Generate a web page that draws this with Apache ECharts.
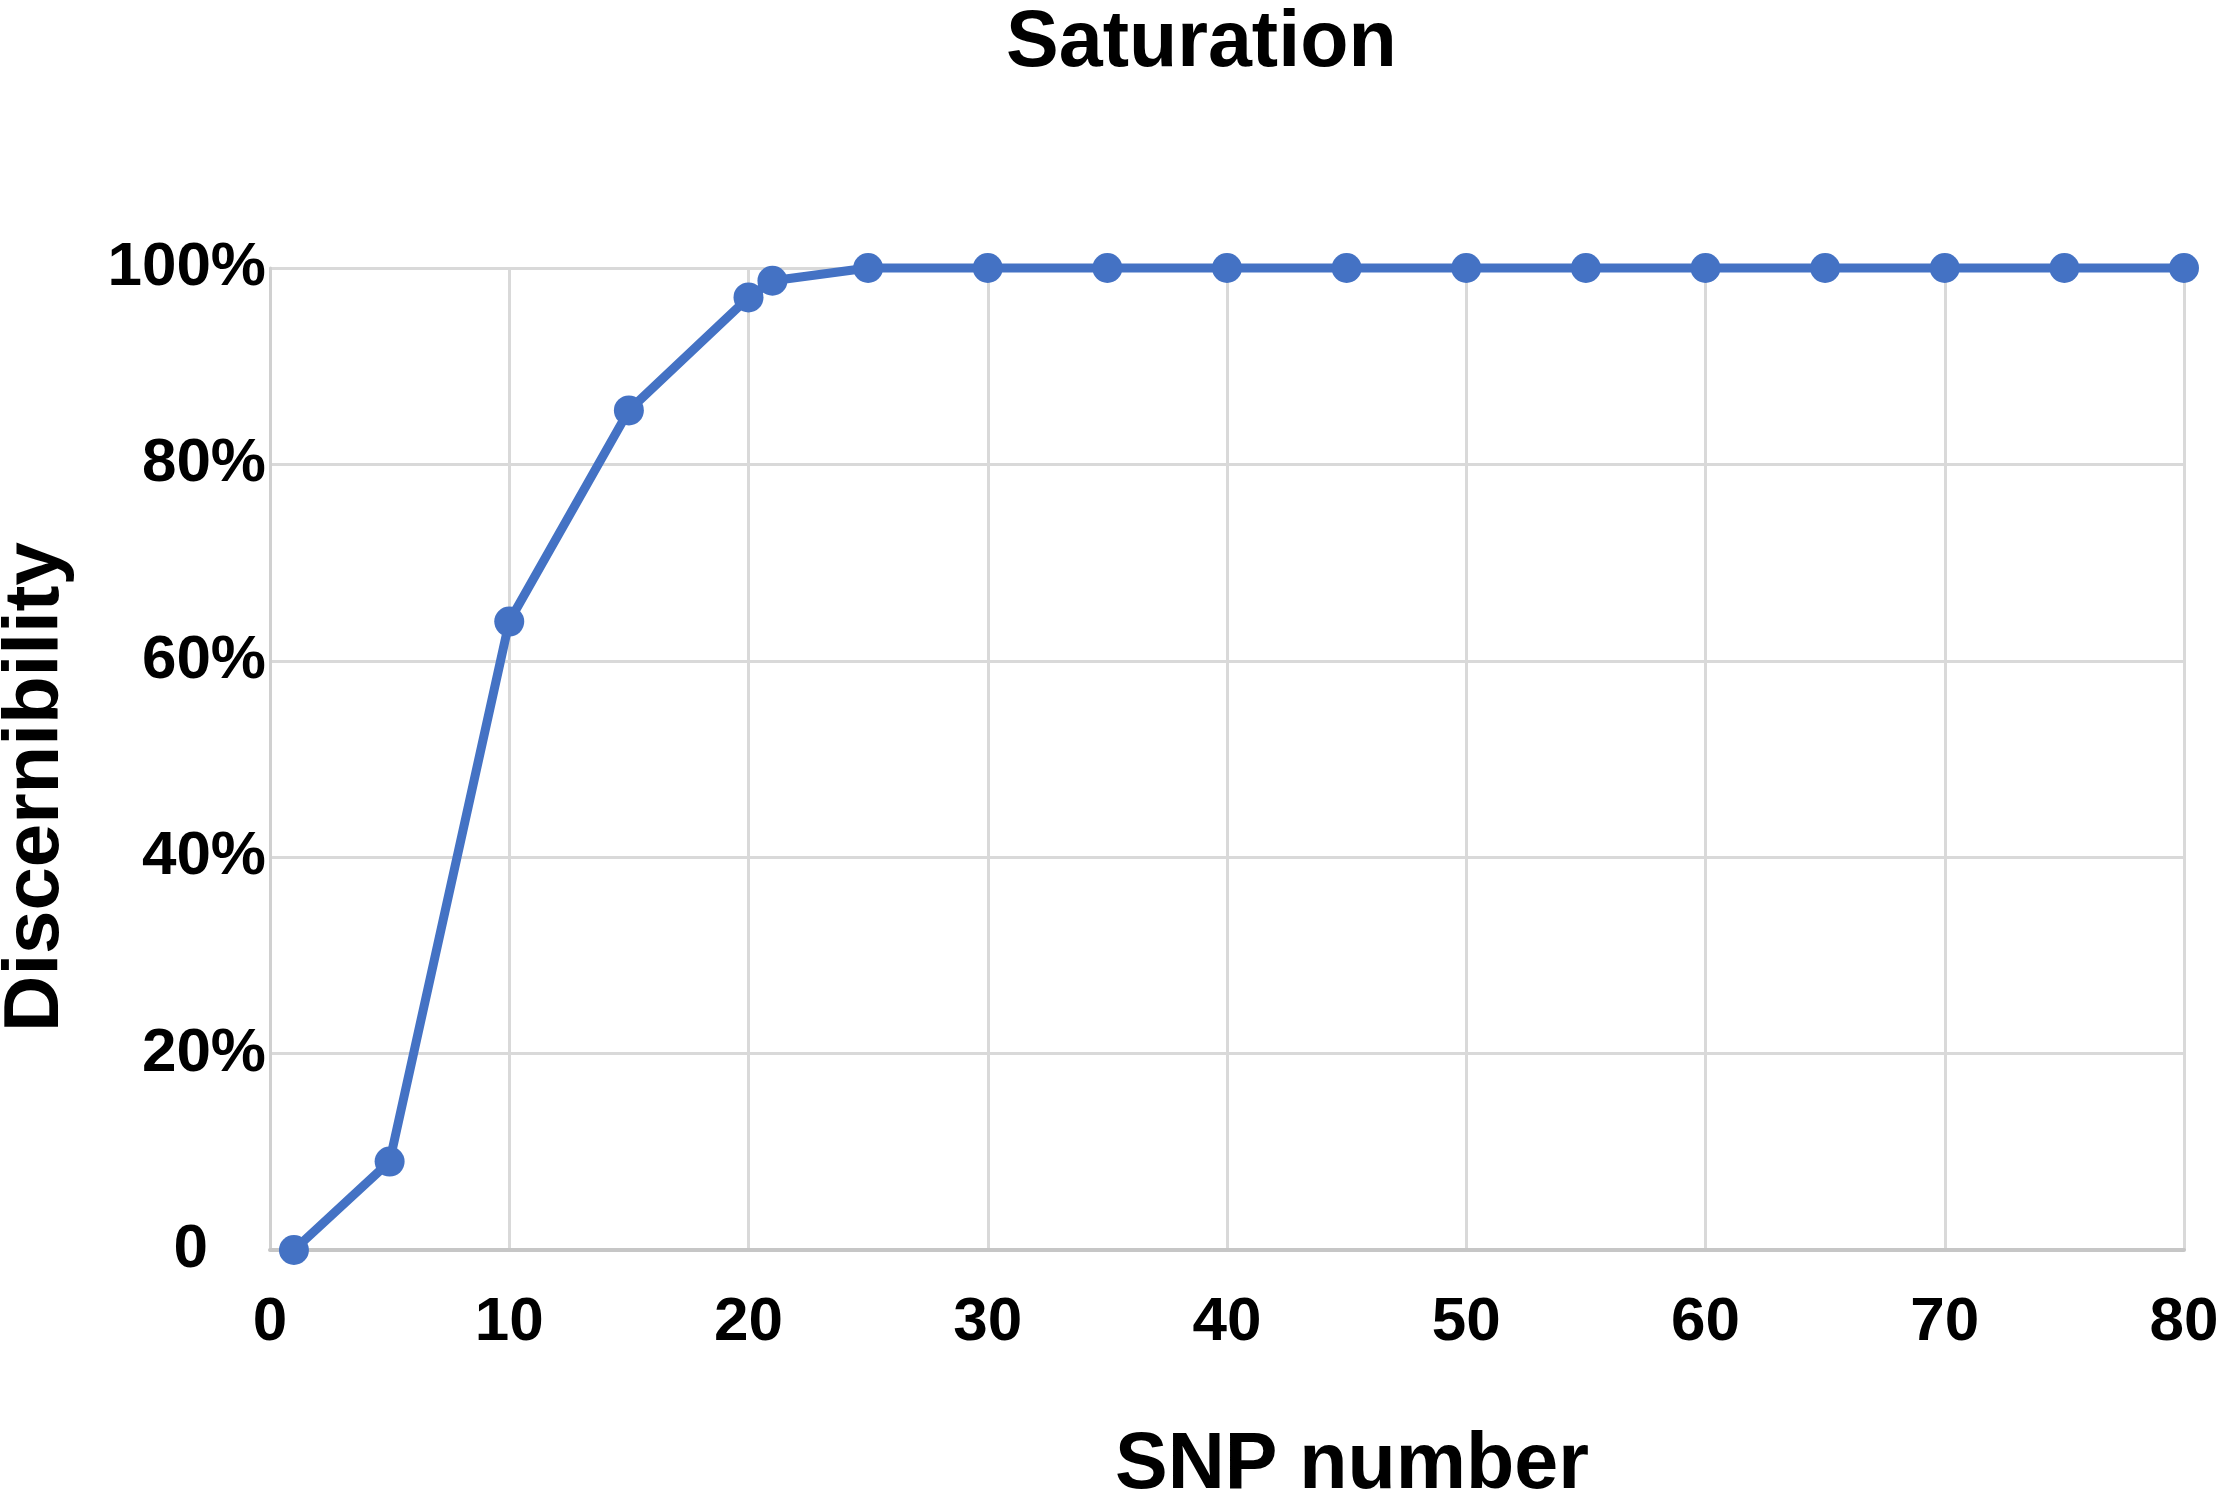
<!DOCTYPE html>
<html>
<head>
<meta charset="utf-8">
<script src="https://cdn.jsdelivr.net/npm/echarts@6/dist/echarts.min.js"></script>
<style>
  html, body { margin: 0; padding: 0; background: #fff; }
  #chart { width: 2228px; height: 1502px; }
</style>
</head>
<body>
<div id="chart"></div>
<script>
// SNP number vs discernibility (%)
var snpNumber = [1, 5, 10, 15, 20, 21, 25, 30, 35, 40, 45, 50, 55, 60, 65, 70, 75, 80];
var discernibility = [0, 9, 64, 85.5, 97, 98.7, 100, 100, 100, 100, 100, 100, 100, 100, 100, 100, 100, 100];
var xTicks = [0, 10, 20, 30, 40, 50, 60, 70, 80];
var yTicks = [0, 20, 40, 60, 80, 100];

var fontFam = "'Liberation Sans', Arial, Helvetica, sans-serif";
var points = [];
for (var i = 0; i < snpNumber.length; i++) {
  points.push([snpNumber[i], discernibility[i]]);
}

var myChart = echarts.init(document.getElementById('chart'));
var option = {
  backgroundColor: '#ffffff',
  animation: false,
  title: {
    text: 'Saturation',
    left: 1001,
    top: 0,
    textStyle: { fontFamily: fontFam, fontWeight: 'bold', fontSize: 79, color: '#000' }
  },
  grid: { left: 270, right: 44, top: 268, bottom: 252, outerBoundsMode: 'none', containLabel: false },
  xAxis: {
    type: 'value',
    min: xTicks[0],
    max: xTicks[xTicks.length - 1],
    interval: 10,
    name: 'SNP number',
    nameLocation: 'middle',
    nameGap: 177,
    nameTextStyle: { fontFamily: fontFam, fontWeight: 'bold', fontSize: 79, color: '#000', padding: [0, 0, 0, 250] },
    axisLine: { show: true, lineStyle: { color: '#c6c6c6', width: 4 } },
    axisTick: { show: false },
    axisLabel: { margin: 42, fontFamily: fontFam, fontWeight: 'bold', fontSize: 62, color: '#000' },
    splitLine: { show: true, lineStyle: { color: '#d9d9d9', width: 3 } }
  },
  yAxis: {
    type: 'value',
    min: yTicks[0],
    max: yTicks[yTicks.length - 1],
    interval: 20,
    name: 'Discernibility',
    nameLocation: 'middle',
    nameGap: 195,
    nameTextStyle: { fontFamily: fontFam, fontWeight: 'bold', fontSize: 78, color: '#000', padding: [0, 56, 0, 0] },
    axisLine: { show: true, lineStyle: { color: '#d0d0d0', width: 3 } },
    axisTick: { show: false },
    axisLabel: {
      margin: 4,
      fontFamily: fontFam, fontWeight: 'bold', fontSize: 62, color: '#000',
      formatter: function (v) { return v === 0 ? '{z|0}' : v + '%'; },
      rich: { z: { fontFamily: fontFam, fontWeight: 'bold', fontSize: 62, color: '#000', padding: [0, 58, 0, 0] } }
    },
    splitLine: { show: true, lineStyle: { color: '#d9d9d9', width: 3 } }
  },
  series: [{
    type: 'line',
    data: points,
    clip: false,
    symbol: 'circle',
    symbolSize: 30,
    lineStyle: { color: '#4472c4', width: 9 },
    itemStyle: { color: '#4472c4' }
  }]
};
myChart.setOption(option);
</script>
</body>
</html>
